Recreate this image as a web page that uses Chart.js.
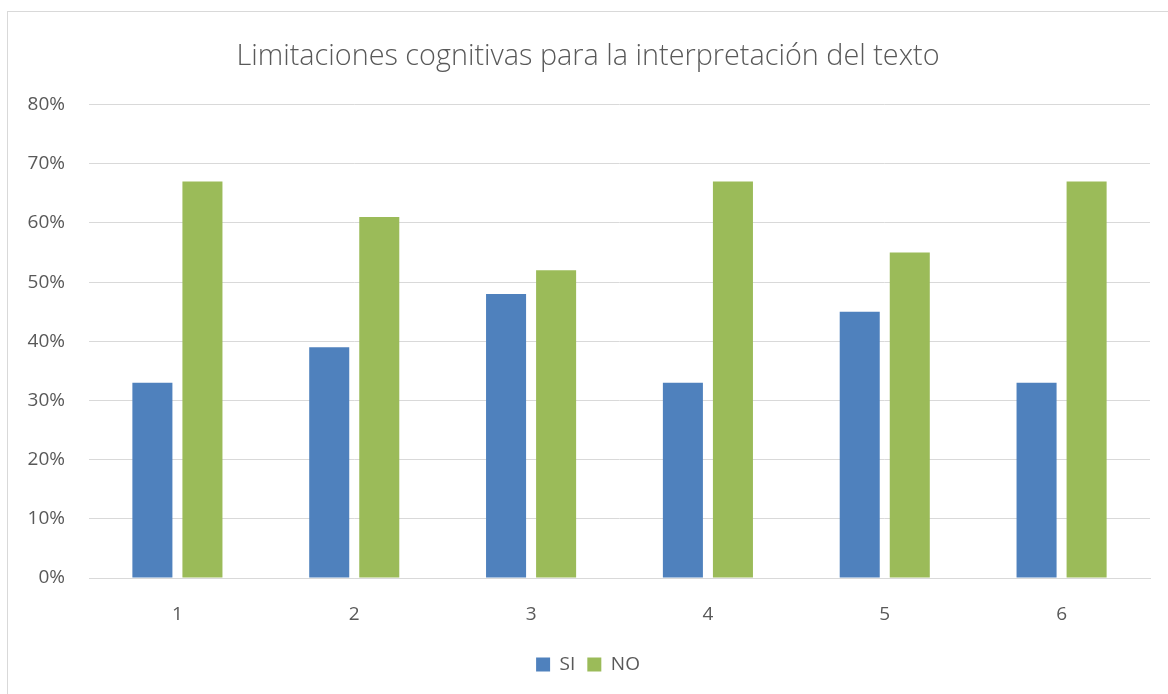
<!DOCTYPE html>
<html>
<head>
<meta charset="utf-8">
<script src="https://cdn.jsdelivr.net/npm/chart.js@4/dist/chart.umd.min.js"></script>
<style>
  html, body { margin: 0; padding: 0; background: #fff; overflow: hidden; }
  #wrap { position: relative; width: 1168px; height: 694px; }
  #frame { position: absolute; left: 7px; top: 11px; width: 1200px; height: 720px; border: 1px solid #d9d9d9; box-sizing: border-box; }
  canvas { position: absolute; left: 0; top: 0; }
</style>
</head>
<body>
<div id="wrap">
  <div id="frame"></div>
  <canvas id="chart" width="1168" height="694"></canvas>
</div>
<script>
const categories = ['1', '2', '3', '4', '5', '6'];
const siValues = [33, 39, 48, 33, 45, 33];
const noValues = [67, 61, 52, 67, 55, 67];
const yTicks = [0, 10, 20, 30, 40, 50, 60, 70, 80];

const font = "'Open Sans', 'Liberation Sans', sans-serif";
const textColor = '#595959';

const ctx = document.getElementById('chart').getContext('2d');
new Chart(ctx, {
    type: 'bar',
    data: {
        labels: categories,
        datasets: [{
            label: 'SI',
            data: siValues,
            backgroundColor: '#4f81bd',
            categoryPercentage: 0.566,
            barPercentage: 0.8
        }, {
            label: 'NO',
            data: noValues,
            backgroundColor: '#9bbb59',
            categoryPercentage: 0.566,
            barPercentage: 0.8
        }]
    },
    options: {
        responsive: false,
        animation: false,
        layout: { padding: { left: 26, right: 18, top: 26, bottom: 10 } },
        plugins: {
            title: {
                display: true,
                text: 'Limitaciones cognitivas para la interpretación del texto',
                color: textColor,
                font: { family: font, size: 28.8, weight: '300', lineHeight: 1.2 },
                padding: { top: 14, bottom: 30 }
            },
            legend: {
                position: 'bottom',
                labels: {
                    color: textColor,
                    font: { family: font, size: 19 },
                    boxWidth: 14,
                    boxHeight: 14,
                    padding: 12
                }
            },
            tooltip: { enabled: false }
        },
        scales: {
            x: {
                grid: { display: false, drawTicks: false },
                border: { color: '#d9d9d9', width: 1 },
                ticks: { color: textColor, font: { family: font, size: 19 }, padding: 25 },
                afterFit: axis => { axis.height = 65; }
            },
            y: {
                min: 0,
                max: 80,
                afterBuildTicks: axis => { axis.ticks = yTicks.map(v => ({ value: v })); },
                afterFit: axis => { axis.width = 63; },
                grid: { color: '#d9d9d9', lineWidth: 1, drawTicks: false },
                border: { display: false },
                ticks: {
                    color: textColor,
                    font: { family: font, size: 19 },
                    padding: 24,
                    callback: v => v + '%'
                }
            }
        }
    }
});
</script>
</body>
</html>
